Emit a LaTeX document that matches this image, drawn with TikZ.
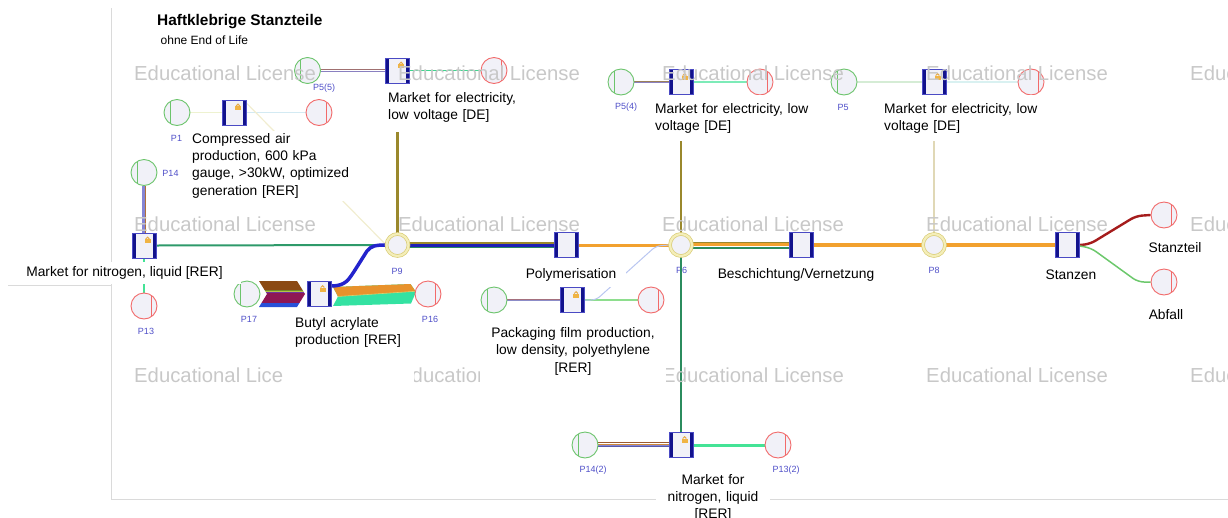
\documentclass[tikz,border=0pt]{standalone}
\usepackage{fontspec}
\setmainfont{Liberation Sans}
\pgfdeclarelayer{flows}
\pgfsetlayers{flows,main}
% node colours
\definecolor{nodefill}{HTML}{F1F1F8}
\definecolor{boxside}{HTML}{12128C}
\definecolor{boxedge}{HTML}{4A4AC4}
\definecolor{ingreen}{HTML}{6CC46C}
\definecolor{outred}{HTML}{F26A6A}
\definecolor{juncring}{HTML}{D9CC78}
\definecolor{juncfill}{HTML}{F4EEB8}
\definecolor{plabel}{HTML}{4F4FC8}
\definecolor{wmgray}{HTML}{C8C8C8}
\definecolor{framegray}{HTML}{DADADA}
\definecolor{lockbody}{HTML}{F0B444}
% flow colours
\definecolor{flowolive}{HTML}{9A882C}
\definecolor{flowbeige}{HTML}{E0D8B6}
\definecolor{flowblue}{HTML}{1F1FB5}
\definecolor{flowblueb}{HTML}{2323CC}
\definecolor{flowgreen}{HTML}{2B8C5E}
\definecolor{floworange}{HTML}{F2A12E}
\definecolor{elecbrown}{HTML}{A07070}
\definecolor{elecpurple}{HTML}{8A80C0}
\definecolor{elecgreen}{HTML}{3FD68E}
\definecolor{elecolive}{HTML}{9B8058}
\definecolor{elecmint}{HTML}{7DEBB8}
\definecolor{paleingreen}{HTML}{D5ECD5}
\definecolor{paleoutcyan}{HTML}{D9F1F1}
\definecolor{airin}{HTML}{EEF2D0}
\definecolor{airout}{HTML}{D3EAF3}
\definecolor{airfaint}{HTML}{F1EDD0}
\definecolor{nitpurple}{HTML}{8585D5}
\definecolor{nitbrown}{HTML}{B0703A}
\definecolor{nitout}{HTML}{44E396}
\definecolor{nitgreen}{HTML}{2E9A6A}
\definecolor{packrose}{HTML}{A4707E}
\definecolor{packlav}{HTML}{8C8CC8}
\definecolor{packout}{HTML}{8EDE8E}
\definecolor{packfaint}{HTML}{B9C6F0}
\definecolor{ntwobrown}{HTML}{9C5A30}
\definecolor{ntwoorange}{HTML}{D08A3A}
\definecolor{ntwonavy}{HTML}{5A5AA8}
\definecolor{stred}{HTML}{A51C1C}
\definecolor{stgreen}{HTML}{6CC86C}
\definecolor{bandbrown}{HTML}{8B4A14}
\definecolor{bandolive}{HTML}{6E8B2A}
\definecolor{bandyellow}{HTML}{B4C444}
\definecolor{bandpurple}{HTML}{7030A0}
\definecolor{bandplum}{HTML}{8E1654}
\definecolor{bandblue}{HTML}{2850D8}
\definecolor{bandorange}{HTML}{E8922C}
\definecolor{bandgreen}{HTML}{34E2A2}
\definecolor{bandline}{HTML}{D8D070}

\begin{document}
\begin{tikzpicture}[x=1pt, y=-1pt,
  procbox/.style={rectangle, minimum width=24pt, minimum height=25pt, inner sep=0pt,
    fill=nodefill, draw=boxedge, line width=0.8pt,
    path picture={\draw[boxside, line width=7pt]
      (path picture bounding box.north west) -- (path picture bounding box.south west)
      (path picture bounding box.north east) -- (path picture bounding box.south east);}},
  srcin/.style={circle, minimum size=26pt, inner sep=0pt, fill=nodefill, draw=ingreen, line width=0.9pt,
    path picture={\draw[ingreen, line width=0.9pt]
      ([xshift=6pt]path picture bounding box.north west) -- ([xshift=6pt]path picture bounding box.south west);}},
  srcout/.style={circle, minimum size=26pt, inner sep=0pt, fill=nodefill, draw=outred, line width=0.9pt,
    path picture={\draw[outred, line width=0.9pt]
      ([xshift=-6pt]path picture bounding box.north east) -- ([xshift=-6pt]path picture bounding box.south east);}},
  junction/.style={circle, minimum size=22pt, inner sep=0pt, fill=nodefill, draw=juncring,
    line width=0.7pt, double=juncfill, double distance=2.2pt},
  plbl/.style={font=\fontsize{9}{10}\selectfont, text=plabel, inner sep=0pt},
  txt/.style={font=\fontsize{13.8}{17.2}\selectfont, inner sep=0pt},
  labelpad/.style={fill=white},
  wmark/.style={font=\fontsize{20.3}{22}\selectfont, text=wmgray, inner sep=0pt, anchor=base west},
  lockpic/.pic={
    \fill[lockbody] (-3,-2) rectangle (3,2.2);
    \draw[lockbody!80!brown, line width=1pt] (-1.8,-2) arc[start angle=180, end angle=360, radius=1.8];}
]
\useasboundingbox (0,0) rectangle (1228,517);

% ---------------- process and flow nodes ----------------
\node[srcin]   (g55)  at (307.5,70.5) {};
\node[procbox] (e55)  at (397.5,70.5) {};
\node[srcout]  (r55)  at (494,70.5) {};
\node[srcin]   (gair) at (177,112.5) {};
\node[procbox] (air)  at (234.5,112.5) {};
\node[srcout]  (rair) at (319,112.5) {};
\node[srcin]   (g14)  at (144,172.5) {};
\node[procbox] (n1)   at (144,245.5) {};
\node[srcout]  (r13)  at (144,306) {};
\node[junction] (p9)  at (397.5,245) {};
\node[srcin]   (g17)  at (247,294) {};
\node[procbox] (ba)   at (319,294) {};
\node[srcout]  (r16)  at (428,294) {};
\node[procbox] (poly) at (566,245) {};
\node[junction] (p6)  at (681,245) {};
\node[srcin]   (g54)  at (621,82) {};
\node[procbox] (e54)  at (681,82) {};
\node[srcout]  (r54)  at (760,82) {};
\node[srcin]   (gpk)  at (494,300) {};
\node[procbox] (pk)   at (572.5,300) {};
\node[srcout]  (rpk)  at (651,300) {};
\node[procbox] (bv)   at (801.5,245) {};
\node[junction] (p8)  at (934,245) {};
\node[srcin]   (g5)   at (844,82) {};
\node[procbox] (e5)   at (934,82) {};
\node[srcout]  (r5)   at (1031,82) {};
\node[procbox] (st)   at (1067.5,245) {};
\node[srcout]  (rst)  at (1164,215) {};
\node[srcout]  (rab)  at (1164,282) {};
\node[srcin]   (g142) at (585,445) {};
\node[procbox] (n2)   at (681,445) {};
\node[srcout]  (r132) at (778,445) {};

% padlocks on the locked datasets
\foreach \b in {e55,air,n1,ba,e54,pk,e5,n2}
  \pic at ([shift={(3.5,-4.5)}]\b.center) {lockpic};

\begin{pgfonlayer}{flows}
% plan frame
\draw[framegray, line width=0.9pt] (111,8) -- (111,499) -- (1228,499);
\draw[framegray, line width=0.9pt] (8,285) -- (111,285);

% flow labels
\node[plbl] (lp55)  at (324,88.5)   {P5(5)};
\node[plbl] (lp1)   at (176.5,138)  {P1};
\node[plbl] (lp14)  at (170.5,173)  {P14};
\node[plbl] (lp13)  at (146,331)    {P13};
\node[plbl] (lp9)   at (397,271)    {P9};
\node[plbl] (lp17)  at (249,319)    {P17};
\node[plbl] (lp16)  at (430,319)    {P16};
\node[plbl] (lp54)  at (626,107.5)  {P5(4)};
\node[plbl] (lp5)   at (843,107.5)  {P5};
\node[plbl] (lp6)   at (681.5,270.5){P6};
\node[plbl] (lp8)   at (934,270.5)  {P8};
\node[plbl] (lp142) at (593,470.5)  {P14(2)};
\node[plbl] (lp132) at (786,470.5)  {P13(2)};

% electricity markets
\draw[elecbrown, line width=1.1pt]  ([yshift=0.7pt]g55.east) -- ([yshift=0.7pt]e55.west);
\draw[elecpurple, line width=1pt]   ([yshift=-0.5pt]g55.east) -- ([yshift=-0.5pt]e55.west);
\draw[elecgreen, line width=1.4pt]  (e55.east) -- (r55.west);
\draw[elecolive, line width=1.1pt]  ([yshift=0.7pt]g54.east) -- ([yshift=0.7pt]e54.west);
\draw[elecpurple, line width=1pt]   ([yshift=-0.5pt]g54.east) -- ([yshift=-0.5pt]e54.west);
\draw[elecmint, line width=1.8pt]   (e54.east) -- (r54.west);
\draw[paleingreen, line width=1.5pt] (g5.east) -- (e5.west);
\draw[paleoutcyan, line width=1.5pt] (e5.east) -- (r5.west);
\draw[flowolive, line width=2.5pt]  (e55.south) -- (p9.north);
\draw[flowolive, line width=2.5pt]  (e54.south) -- (p6.north);
\draw[flowbeige, line width=1.5pt]  (e5.south) -- (p8.north);

% compressed air
\draw[airin, line width=1.5pt]   (gair.east) -- (air.west);
\draw[airout, line width=1.5pt]  (air.east) -- (rair.west);
\draw[airfaint, line width=1.2pt] ([yshift=9pt]air.east) -- (p9.west);

% nitrogen market
\draw[nitpurple, line width=3.6pt] (g14.south) -- (n1.north);
\draw[nitbrown, line width=1pt]    ([xshift=1.2pt]g14.south) -- ([xshift=1.2pt]n1.north);
\draw[nitout, line width=2pt]      (n1.south) -- (r13.north);
\draw[nitgreen, line width=2pt]    (n1.east) -- (p9.west);

% butyl acrylate: input band
\begin{scope}
  \clip (259,281) -- (297,281) -- (305,294) -- (297,307) -- (259,307) -- (267,294) -- cycle;
  \fill[bandbrown]  (255,279) rectangle (310,289.5);
  \fill[bandolive]  (255,289.5) rectangle (310,291);
  \fill[bandyellow] (255,291) rectangle (310,292);
  \fill[bandpurple] (255,292) rectangle (310,293);
  \fill[bandplum]   (255,293) rectangle (310,303);
  \fill[bandblue]   (255,303) rectangle (310,309);
\end{scope}
% butyl acrylate: output band
\begin{scope}
  \clip (333,287) -- (410.5,284) -- (416,292) -- (411,303.5) -- (333,306) -- (338,296.5) -- cycle;
  \fill[bandgreen]  (330,280) rectangle (420,310);
  \fill[bandorange] (330,280) -- (420,280) -- (420,291) -- (330,297) -- cycle;
  \draw[bandline, line width=0.6pt] (330,297) -- (420,291);
\end{scope}
\draw[flowblueb, line width=3.5pt] ([yshift=8pt]ba.east) .. controls (346,286) and (349,279) .. (355,270)
  -- (367,251) .. controls (371,246) and (375,245) .. (p9.west);

% P9 to Polymerisation
\draw[flowolive, line width=2pt]  ([yshift=2.4pt]p9.east)  -- ([yshift=2.4pt]poly.west);
\draw[flowblue, line width=3pt]   ([yshift=-0.2pt]p9.east) -- ([yshift=-0.2pt]poly.west);
\draw[flowgreen, line width=1.6pt]([yshift=-2.6pt]p9.east) -- ([yshift=-2.6pt]poly.west);
\draw[floworange, line width=3pt] (poly.east) -- (p6.west);

% packaging film
\draw[packrose, line width=1.1pt] ([yshift=0.6pt]gpk.east) -- ([yshift=0.6pt]pk.west);
\draw[packlav, line width=0.9pt]  ([yshift=-0.5pt]gpk.east) -- ([yshift=-0.5pt]pk.west);
\draw[packout, line width=1.4pt]  (pk.east) -- (rpk.west);
\draw[packfaint, line width=1pt, rounded corners=5pt] (pk.east) -- (596,300) -- (656,246) -- (p6.west);

% P6 to Beschichtung/Vernetzung
\draw[flowolive, line width=1.2pt]  ([yshift=2.4pt]p6.east)  -- ([yshift=2.4pt]bv.west);
\draw[floworange, line width=2.8pt] ([yshift=0.4pt]p6.east)  -- ([yshift=0.4pt]bv.west);
\draw[flowgreen, line width=1.8pt]  ([yshift=-2.6pt]p6.east) -- ([yshift=-2.6pt]bv.west);
\draw[flowgreen, line width=2.2pt]  (p6.south) -- (n2.north);

% second nitrogen market
\draw[ntwobrown, line width=1.2pt]  ([yshift=2.2pt]g142.east)  -- ([yshift=2.2pt]n2.west);
\draw[ntwoorange, line width=1pt]   ([yshift=1pt]g142.east)    -- ([yshift=1pt]n2.west);
\draw[nitpurple, line width=1.4pt]  ([yshift=-0.4pt]g142.east) -- ([yshift=-0.4pt]n2.west);
\draw[ntwonavy, line width=1.2pt]   ([yshift=-1.8pt]g142.east) -- ([yshift=-1.8pt]n2.west);
\draw[nitout, line width=3pt]       (n2.east) -- (r132.west);

% main line to the products
\draw[floworange, line width=4pt] (bv.east) -- (p8.west);
\draw[floworange, line width=4pt] (p8.east) -- (st.west);
\draw[stred, line width=2.4pt, rounded corners=6pt] (st.east) -- (1090,244) -- (1136,216) -- (rst.west);
\draw[stgreen, line width=1.5pt, rounded corners=6pt] ([yshift=-1pt]st.east) -- (1091,248) -- (1138,282) -- (rab.west);
\end{pgfonlayer}

% ---------------- watermark ----------------
\foreach \r/\yb in {1/80,2/231,3/382}
  \foreach \c in {0,...,4}
    \node[wmark] (wm\r\c) at ({134+264*\c},\yb) {Educational License};

% ---------------- titles and process labels ----------------
\node[anchor=base west, inner sep=0pt, font=\fontsize{15.4}{18}\selectfont\bfseries] (title) at (157,25.7) {Haftklebrige Stanzteile};
\node[anchor=base west, inner sep=0pt, font=\fontsize{12}{14}\selectfont] (subtitle) at (160.5,44) {ohne End of Life};

\node[txt, labelpad, text width=130pt, align=left, inner xsep=9pt, inner ysep=9pt, anchor=north west]
  (t55) at (379,83.5) {Market for electricity,\\low voltage [DE]};
\node[txt, labelpad, text width=155pt, align=left, inner xsep=9pt, inner ysep=8pt, anchor=north west]
  (t54) at (646,95) {Market for electricity, low\\voltage [DE]};
\node[txt, labelpad, text width=155pt, align=left, inner xsep=9pt, inner ysep=8pt, anchor=north west]
  (t5) at (875,95) {Market for electricity, low\\voltage [DE]};
\node[txt, labelpad, text width=160pt, align=left, inner sep=3pt, anchor=north west]
  (tair) at (189,130.3) {Compressed air\\production, 600 kPa\\gauge, >30kW, optimized\\generation [RER]};
\node[txt, labelpad, inner xsep=18pt, inner ysep=5pt] (tn1) at (124.5,273) {Market for nitrogen, liquid [RER]};
\node[txt, labelpad, text width=108pt, align=left, inner xsep=11pt, inner ysep=8pt, text depth=52pt, anchor=north west]
  (tba) at (284,309.3) {Butyl acrylate\\production [RER]};
\node[txt, labelpad, inner xsep=10pt, inner ysep=6pt] (tpoly) at (571,275) {Polymerisation};
\node[txt, labelpad, text width=170pt, align=center, inner xsep=8pt, inner ysep=14pt, anchor=north]
  (tpk) at (573,313.5) {Packaging film production,\\low density, polyethylene\\{}[RER]};
\node[txt] (tbv)   at (796,275)    {Beschichtung/Vernetzung};
\node[txt] (tst)   at (1071,275)   {Stanzen};
\node[txt] (tstz)  at (1175,247.5) {Stanzteil};
\node[txt] (tab)   at (1166,315)   {Abfall};
\node[txt, labelpad, text width=100pt, align=center, inner xsep=7pt, inner ysep=6pt, anchor=north]
  (tn2) at (713,468) {Market for\\nitrogen, liquid\\{}[RER]};
\end{tikzpicture}
\end{document}
